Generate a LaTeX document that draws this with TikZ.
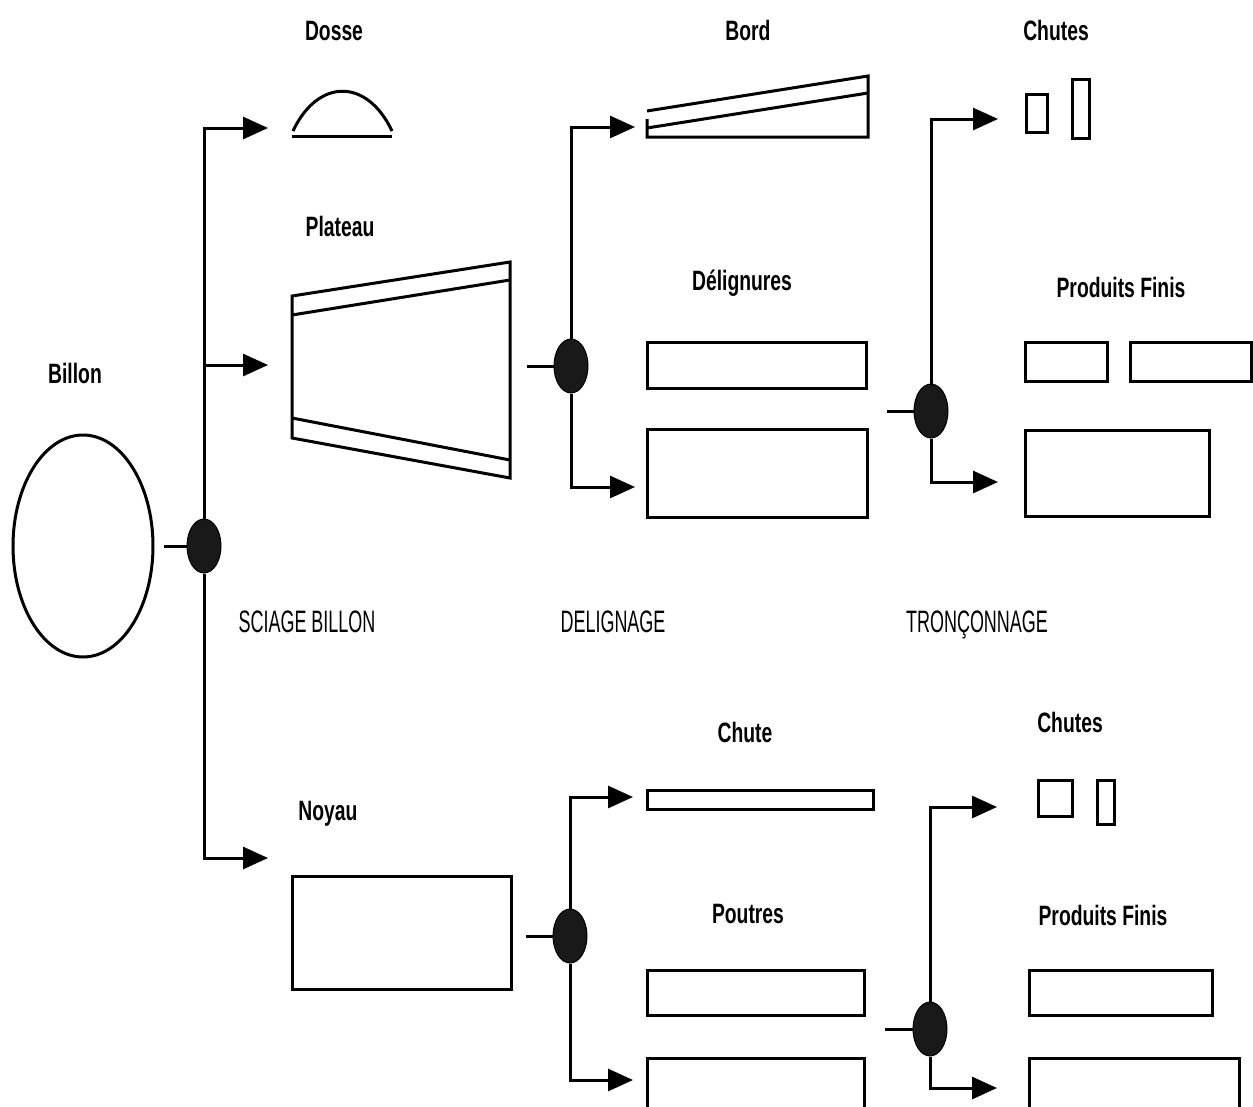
\documentclass[tikz,border=0pt]{standalone}
\usepackage{fontspec}
\setmainfont{Liberation Sans}
\newfontfamily\labfont[FakeStretch=0.69]{Liberation Sans}
\newfontfamily\stagefont[FakeStretch=0.58]{Liberation Sans}
\usetikzlibrary{arrows.meta,shapes.geometric}
\begin{document}
\begin{tikzpicture}[x=1pt,y=-1pt,
  ln/.style={line width=3pt,line join=miter},
  arr/.style={ln,-{Triangle[length=25pt,width=22pt]}},
  box/.style={draw,line width=3pt,rectangle,inner sep=0pt,anchor=north west},
  dot/.style={draw,line width=1pt,ellipse,fill=black!90,minimum width=34pt,minimum height=54pt,inner sep=0pt},
  lab/.style={anchor=base,inner sep=0pt,font=\labfont\bfseries\fontsize{28}{30}\selectfont},
  stage/.style={anchor=base,inner sep=0pt,font=\stagefont\fontsize{31}{33}\selectfont}]
\useasboundingbox (0,0) rectangle (1253,1106);
\clip (0,0) rectangle (1253,1106);

% ---------- labels ----------
\node[lab] (tBillon) at (75,383) {Billon};
\node[lab] (tDosse) at (334,40) {Dosse};
\node[lab] (tPlateau) at (340,236) {Plateau};
\node[lab] (tNoyau) at (328,820) {Noyau};
\node[lab] (tBord) at (748,40) {Bord};
\node[lab] (tDel) at (742,290) {Délignures};
\node[lab] (tChute) at (745,742) {Chute};
\node[lab] (tPoutres) at (748,923) {Poutres};
\node[lab] (tChutesA) at (1056,40) {Chutes};
\node[lab] (tPFA) at (1121,297) {Produits Finis};
\node[lab] (tChutesB) at (1070,732) {Chutes};
\node[lab] (tPFB) at (1103,925) {Produits Finis};
\node[stage] (sSciage) at (307,632) {SCIAGE BILLON};
\node[stage] (sDelig) at (613,632) {DELIGNAGE};
\node[stage] (sTronc) at (977,632) {TRONÇONNAGE};

% ---------- billon ----------
\node[draw,line width=3pt,ellipse,minimum width=140pt,minimum height=222pt,inner sep=0pt] (billon) at (83,546) {};

% ---------- junctions ----------
\node[dot] (j1) at (204,546) {};
\node[dot] (j2) at (571,366) {};
\node[dot] (j3) at (931,411) {};
\node[dot] (j4) at (570,936) {};
\node[dot] (j5) at (930,1029) {};

% ---------- dosse ----------
\draw[ln] (293,131) .. controls (318,78) and (367,78) .. (392,131);
\draw[ln] (292,136) -- (392,136);

% ---------- plateau ----------
\draw[ln] (292,296) -- (510,262) -- (510,478) -- (292,438) -- cycle;
\draw[ln] (292,315) -- (510,280);
\draw[ln] (292,418) -- (510,460);

% ---------- bord ----------
\draw[ln] (647,111) -- (868,76) -- (868,137) -- (647,137) -- (647,119);
\draw[ln] (647,128) -- (868,93);

% ---------- rectangles ----------
\node[box,minimum width=219pt,minimum height=46pt] (delA) at (646,341) {};
\node[box,minimum width=220pt,minimum height=88pt] (delB) at (646,428) {};
\node[box,minimum width=21pt,minimum height=38pt] (chA) at (1025,93) {};
\node[box,minimum width=17pt,minimum height=59pt] (chB) at (1071,78) {};
\node[box,minimum width=82pt,minimum height=39pt] (pfA) at (1024,341) {};
\node[box,minimum width=121pt,minimum height=39pt] (pfB) at (1129,341) {};
\node[box,minimum width=184pt,minimum height=86pt] (pfC) at (1024,429) {};
\node[box,minimum width=219pt,minimum height=113pt] (noyau) at (291,875) {};
\node[box,minimum width=226pt,minimum height=19pt] (chute) at (646,789) {};
\node[box,minimum width=217pt,minimum height=45pt] (poA) at (646,969) {};
\node[box,minimum width=217pt,minimum height=80pt] (poB) at (646,1057) {};
\node[box,minimum width=34pt,minimum height=36pt] (chC) at (1037,779) {};
\node[box,minimum width=17pt,minimum height=44pt] (chD) at (1096,779) {};
\node[box,minimum width=183pt,minimum height=45pt] (pfD) at (1028,969) {};
\node[box,minimum width=210pt,minimum height=80pt] (pfE) at (1028,1057) {};

% ---------- connector end points ----------
\coordinate (billonOut) at (164,546);
\coordinate (aDosse) at (268,128);
\coordinate (aPlateau) at (268,365);
\coordinate (aNoyau) at (268,858);
\coordinate (plateauOut) at (527,366);
\coordinate (aBord) at (635,127);
\coordinate (aDel) at (635,487);
\coordinate (delOut) at (887,411);
\coordinate (aChutesA) at (998,119);
\coordinate (aPFA) at (998,482);
\coordinate (noyauOut) at (526,936);
\coordinate (aChute) at (633,797);
\coordinate (aPoutres) at (633,1080);
\coordinate (poutresOut) at (885,1029);
\coordinate (aChutesB) at (997,807);
\coordinate (aPFB) at (997,1088);

% ---------- connectors ----------
\draw[ln] (billonOut) -- (j1.west);
\draw[arr] (j1.north) |- (aDosse);
\draw[arr] (j1.north) |- (aPlateau);
\draw[arr] (j1.south) |- (aNoyau);

\draw[ln] (plateauOut) -- (j2.west);
\draw[arr] (j2.north) |- (aBord);
\draw[arr] (j2.south) |- (aDel);

\draw[ln] (delOut) -- (j3.west);
\draw[arr] (j3.north) |- (aChutesA);
\draw[arr] (j3.south) |- (aPFA);

\draw[ln] (noyauOut) -- (j4.west);
\draw[arr] (j4.north) |- (aChute);
\draw[arr] (j4.south) |- (aPoutres);

\draw[ln] (poutresOut) -- (j5.west);
\draw[arr] (j5.north) |- (aChutesB);
\draw[arr] (j5.south) |- (aPFB);
\end{tikzpicture}
\end{document}
